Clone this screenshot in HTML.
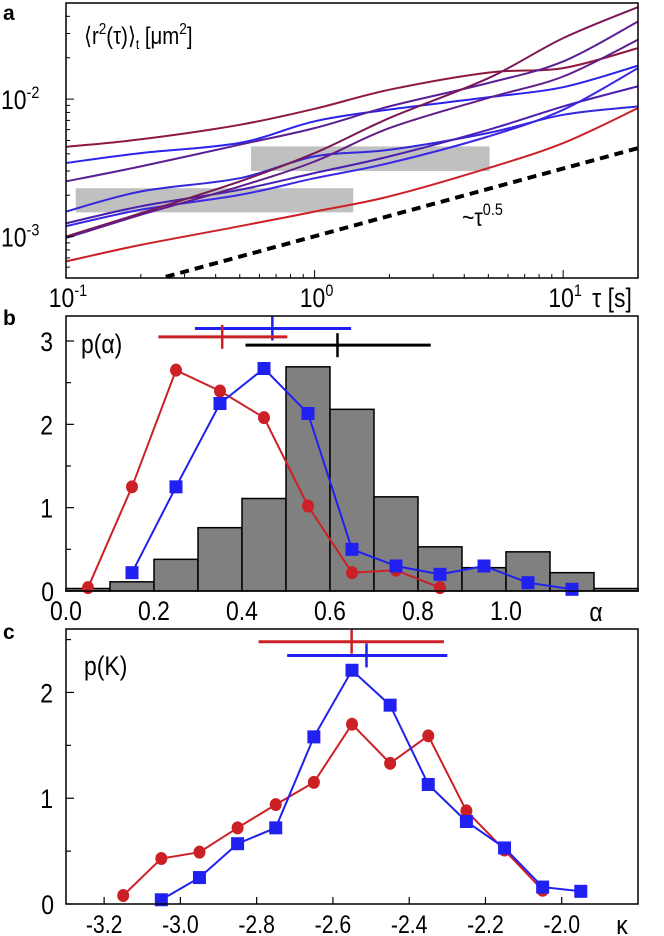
<!DOCTYPE html>
<html><head><meta charset="utf-8"><style>
html,body{margin:0;padding:0;background:#fff}
svg{display:block;font-family:"Liberation Sans",sans-serif}
</style></head><body>
<svg id="fig" width="664" height="936" viewBox="0 0 664 936" xmlns="http://www.w3.org/2000/svg"></svg>
<script>
// ---------- Panel a data ----------
const tauPts = [0.1, 0.2, 0.5, 1, 2, 5, 10, 20];
const msd1 = [4.5e-3, 5.1e-3, 6.5e-3, 8.5e-3, 11.7e-3, 15.6e-3, 16.8e-3, 23.5e-3];
const msd2 = [3.43e-3, 4.05e-3, 4.8e-3, 6.9e-3, 8.4e-3, 10.3e-3, 12.2e-3, 17.5e-3];
const msd3 = [2.52e-3, 3.24e-3, 4.66e-3, 6.15e-3, 8.85e-3, 13.1e-3, 18.8e-3, 36.7e-3];
const msd4 = [1.52e-3, 2.13e-3, 2.66e-3, 3.83e-3, 4.28e-3, 5.67e-3, 7.69e-3, 8.85e-3];
const msd5 = [1.25e-3, 1.66e-3, 2.19e-3, 2.9e-3, 3.83e-3, 5.98e-3, 8.85e-3, 12.4e-3];
const msd6 = [1.19e-3, 1.57e-3, 2.01e-3, 2.66e-3, 3.43e-3, 5.35e-3, 8.36e-3, 16.8e-3];
const msd7 = [1.0e-3, 1.48e-3, 2.52e-3, 4.05e-3, 7.27e-3, 14.2e-3, 27.8e-3, 46.7e-3];
const msd8 = [0.975e-3, 1.44e-3, 2.32e-3, 3.52e-3, 6.15e-3, 10.2e-3, 14.6e-3, 27e-3];
const msd9 = [0.66e-3, 0.87e-3, 1.19e-3, 1.52e-3, 1.96e-3, 3.15e-3, 4.79e-3, 8.6e-3];
const msdColors = ["#8e1840", "#2a22ee", "#5a1f95", "#3426dc", "#4a1fb0", "#3a28e6", "#7a1855", "#621d8c", "#cc2027"];
const bandTau = [[0.555, 5.06], [0.1095, 1.43]];
const bandMsd = [[3.0e-3, 4.53e-3], [1.5e-3, 2.25e-3]];
const guideTau = [0.252, 20];
const guideMsd = [5.1e-4, 4.4e-3];
// ---------- Panel b data ----------
const histEdges = [0, 0.1, 0.2, 0.3, 0.4, 0.5, 0.6, 0.7, 0.8, 0.9, 1.0, 1.1, 1.2, 1.3];
const histVals = [0.03, 0.11, 0.38, 0.76, 1.11, 2.69, 2.18, 1.13, 0.53, 0.28, 0.47, 0.22, 0.03];
const alphaRedX = [0.05, 0.15, 0.25, 0.35, 0.45, 0.55, 0.65, 0.75, 0.85];
const alphaRedY = [0.04, 1.25, 2.65, 2.4, 2.08, 1.02, 0.22, 0.25, 0.04];
const alphaBlueX = [0.15, 0.25, 0.35, 0.45, 0.55, 0.65, 0.75, 0.85, 0.95, 1.05, 1.15];
const alphaBlueY = [0.22, 1.25, 2.25, 2.67, 2.13, 0.5, 0.3, 0.2, 0.3, 0.1, 0.02];
const alphaErr = [ // [mean, lo, hi, y]
  [0.469, 0.293, 0.648, 3.15],
  [0.355, 0.210, 0.503, 3.05],
  [0.617, 0.408, 0.829, 2.95]];
const alphaErrColors = ["#2020f0", "#cc2027", "#000"];
const alphaTicks = ["0.0", "0.2", "0.4", "0.6", "0.8", "1.0"];
// ---------- Panel c data ----------
const kRedX = [-3.15, -3.05, -2.95, -2.85, -2.75, -2.65, -2.55, -2.45, -2.35, -2.25, -2.15, -2.05];
const kRedY = [0.08, 0.43, 0.49, 0.72, 0.94, 1.15, 1.70, 1.33, 1.59, 0.88, 0.51, 0.13];
const kBlueX = [-3.05, -2.95, -2.85, -2.75, -2.65, -2.55, -2.45, -2.35, -2.25, -2.15, -2.05, -1.95];
const kBlueY = [0.04, 0.25, 0.57, 0.72, 1.58, 2.21, 1.88, 1.13, 0.78, 0.53, 0.16, 0.12];
const kErr = [[-2.551, -2.795, -2.309, 2.48], [-2.512, -2.72, -2.30, 2.35]];
const kErrColors = ["#cc2027", "#2020f0"];
const kTicks = ["-3.2", "-3.0", "-2.8", "-2.6", "-2.4", "-2.2", "-2.0"];

const NS = "http://www.w3.org/2000/svg";
const svg = document.getElementById("fig");
function mk(tag, attrs, parent) {
  const e = document.createElementNS(NS, tag);
  for (const k in attrs) e.setAttribute(k, attrs[k]);
  (parent || svg).appendChild(e);
  return e;
}
// condensed text: scale horizontally to mimic narrow font
function txt(x, y, s, size, parent, anchor, weight, sx) {
  const k = sx || 0.85;
  const t = mk("text", {x: x / k, y: y, "font-size": size, "text-anchor": anchor || "start", "font-weight": weight || "normal", transform: "scale(" + k + ",1)"}, parent);
  t.textContent = s;
  return t;
}
function smooth(pts) {
  let d = "M" + pts[0][0].toFixed(1) + "," + pts[0][1].toFixed(1);
  for (let i = 0; i < pts.length - 1; i++) {
    const p0 = pts[Math.max(0, i - 1)], p1 = pts[i], p2 = pts[i + 1], p3 = pts[Math.min(pts.length - 1, i + 2)];
    const c1x = p1[0] + (p2[0] - p0[0]) / 6, c1y = p1[1] + (p2[1] - p0[1]) / 6;
    const c2x = p2[0] - (p3[0] - p1[0]) / 6, c2y = p2[1] - (p3[1] - p1[1]) / 6;
    d += " C" + c1x.toFixed(1) + "," + c1y.toFixed(1) + " " + c2x.toFixed(1) + "," + c2y.toFixed(1) + " " + p2[0].toFixed(1) + "," + p2[1].toFixed(1);
  }
  return d;
}
const L = 66, R = 638;

// ===== Panel a =====
const ga = mk("g", {});


const aT = 3, aB = 278;
const axA = t => L + (Math.log10(t) + 1) / Math.log10(200) * (R - L);
const ayA = v => aB - (Math.log10(v) - Math.log10(5e-4)) / 2 * (aB - aT);
const clipA = mk("clipPath", {id: "clipA"}, ga);
mk("rect", {x: L, y: aT, width: R - L, height: aB - aT}, clipA);
const ca = mk("g", {"clip-path": "url(#clipA)"}, ga);
bandTau.forEach((b, i) => {
  const r = mk("rect", {x: axA(b[0]), y: ayA(bandMsd[i][1]), width: axA(b[1]) - axA(b[0]), height: ayA(bandMsd[i][0]) - ayA(bandMsd[i][1]), fill: "#c0c0c0"}, ca);
  
  
});
const g1 = mk("line", {x1: axA(guideTau[0]), y1: ayA(guideMsd[0]), x2: axA(guideTau[1]), y2: ayA(guideMsd[1]), stroke: "#000", "stroke-width": 4, "stroke-dasharray": "9,6"}, ca);


[msd1, msd2, msd3, msd4, msd5, msd6, msd7, msd8, msd9].forEach((arr, i) => {
  const pts = arr.map((v, j) => [axA(tauPts[j]), ayA(v)]);
  const p = mk("path", {d: smooth(pts), fill: "none", stroke: msdColors[i], "stroke-width": 2, "stroke-linejoin": "round"}, ca);
  
  
});
mk("rect", {x: L, y: aT, width: R - L, height: aB - aT, fill: "none", stroke: "#000", "stroke-width": 1.5}, ga);
for (let e = -1; e <= 1; e++) for (let m = 1; m < 10; m++) {
  const t = m * Math.pow(10, e); if (t > 20) continue;
  const x = axA(t), len = m === 1 ? 8 : 4;
  mk("line", {x1: x, y1: aB, x2: x, y2: aB - len, stroke: "#000", "stroke-width": 1}, ga);
}
for (let e = -4; e <= -2; e++) for (let m = 1; m < 10; m++) {
  const v = m * Math.pow(10, e); if (v < 5e-4 || v > 0.05) continue;
  const y = ayA(v), len = m === 1 ? 8 : 4;
  mk("line", {x1: L, y1: y, x2: L + len, y2: y, stroke: "#000", "stroke-width": 1}, ga);
}
function pow10(x, y, s, parent, anchor) {
  const k = 0.85;
  const t = mk("text", {x: x / k, y: y, "font-size": 27, "text-anchor": anchor, transform: "scale(" + k + ",1)"}, parent);
  t.textContent = "10";
  const ts = mk("tspan", {dy: -11, "font-size": 17}, t); ts.textContent = s;
}
[[-1, "-1"], [0, "0"], [1, "1"]].forEach(([e, s]) => pow10(axA(Math.pow(10, e)) + 2, 307, s, ga, "middle"));
[[-2, "-2"], [-3, "-3"]].forEach(([e, s]) => pow10(1, ayA(Math.pow(10, e)) + 10, s, ga, "start"));
const xla = txt(612, 307, "τ [s]", 27, ga, "middle");


const yla = mk("text", {x: 84 / 0.85, y: 44, "font-size": 24, transform: "scale(0.85,1)"}, ga);
yla.innerHTML = '⟨r<tspan dy="-10" font-size="16">2</tspan><tspan dy="10">(τ)⟩</tspan><tspan dy="5" font-size="14">t</tspan><tspan dy="-5"> [μm</tspan><tspan dy="-10" font-size="16">2</tspan><tspan dy="10">]</tspan>';


const gl = mk("text", {x: 462 / 0.85, y: 278 - 52, "font-size": 25, transform: "scale(0.85,1)"}, ga);
gl.innerHTML = '~τ<tspan dy="-11" font-size="17">0.5</tspan>';


txt(3, 20, "a", 21, ga, "start", "bold", 1);

// ===== Panel b =====
const gb = mk("g", {});


const bT = 316, bB = 591;
const axB = a => L + a / 1.3 * (R - L);
const ayB = v => bB - v / 3.3 * (bB - bT);
histVals.forEach((v, i) => {
  const r = mk("rect", {x: axB(histEdges[i]), y: ayB(v), width: axB(histEdges[i + 1]) - axB(histEdges[i]), height: bB - ayB(v), fill: "#808080", stroke: "#000", "stroke-width": 1.5}, gb);
  
  
});
function series(xs, ys, ax, ay, col, shape, parent, name) {
  const d = xs.map((x, j) => (j ? "L" : "M") + ax(x).toFixed(1) + "," + ay(ys[j]).toFixed(1)).join(" ");
  const p = mk("path", {d: d, fill: "none", stroke: col, "stroke-width": 2}, parent);
  
  
  xs.forEach((x, j) => {
    let m;
    if (shape === "c") m = mk("ellipse", {cx: ax(x), cy: ay(ys[j]), rx: 6, ry: 6.5, fill: col}, parent);
    else m = mk("rect", {x: ax(x) - 6.5, y: ay(ys[j]) - 6.5, width: 13, height: 13, fill: col}, parent);
    
    
  });
}
series(alphaRedX, alphaRedY, axB, ayB, "#cc2027", "c", gb, "alpha-red");
series(alphaBlueX, alphaBlueY, axB, ayB, "#2020f0", "s", gb, "alpha-blue");
alphaErr.forEach((e, i) => {
  const y = ayB(e[3]);
  const h = mk("line", {x1: axB(e[1]), y1: y, x2: axB(e[2]), y2: y, stroke: alphaErrColors[i], "stroke-width": 3}, gb);
  
  
  mk("line", {x1: axB(e[0]), y1: y - 12, x2: axB(e[0]), y2: y + 12, stroke: alphaErrColors[i], "stroke-width": 2.5}, gb);
});
mk("rect", {x: L, y: bT, width: R - L, height: bB - bT, fill: "none", stroke: "#000", "stroke-width": 1.5}, gb);
for (let v = 0; v <= 3; v += 0.5) {
  mk("line", {x1: L, y1: ayB(v), x2: L + (v % 1 === 0 ? 8 : 5), y2: ayB(v), stroke: "#000", "stroke-width": 1.2}, gb);
  if (v % 1 === 0) txt(v === 0 ? 54 : 53, ayB(v) + 10, String(v), 27, gb, "end");
}
alphaTicks.forEach((s, i) => txt(axB(i * 0.2), 620, s, 27, gb, "middle"));
txt(596, 621, "α", 27, gb, "middle");
const pa = txt(81, 353, "p(α)", 27, gb);


txt(3, 325, "b", 21, gb, "start", "bold", 1);

// ===== Panel c =====
const gc = mk("g", {});


const cT = 629, cB = 904;
const axC = k => L + (k + 3.3) / 1.5 * (R - L);
const ayC = v => cB - v / 2.6 * (cB - cT);
series(kRedX, kRedY, axC, ayC, "#cc2027", "c", gc, "kappa-red");
series(kBlueX, kBlueY, axC, ayC, "#2020f0", "s", gc, "kappa-blue");
kErr.forEach((e, i) => {
  const y = ayC(e[3]);
  const h = mk("line", {x1: axC(e[1]), y1: y, x2: axC(e[2]), y2: y, stroke: kErrColors[i], "stroke-width": 3}, gc);
  
  
  mk("line", {x1: axC(e[0]), y1: y - 12, x2: axC(e[0]), y2: y + 12, stroke: kErrColors[i], "stroke-width": 2.5}, gc);
});
mk("rect", {x: L, y: cT, width: R - L, height: cB - cT, fill: "none", stroke: "#000", "stroke-width": 1.5}, gc);
for (let v = 0; v <= 2.5; v += 0.5) {
  mk("line", {x1: L, y1: ayC(v), x2: L + (v % 1 === 0 ? 8 : 5), y2: ayC(v), stroke: "#000", "stroke-width": 1.2}, gc);
  if (v % 1 === 0) txt(v === 0 ? 54 : 53, ayC(v) + 10, String(v), 27, gc, "end");
}
kTicks.forEach((s, i) => {
  const k = -3.2 + i * 0.2;
  mk("line", {x1: axC(k), y1: cB, x2: axC(k), y2: cB - 7, stroke: "#000", "stroke-width": 1.2}, gc);
  txt(axC(k), 933, s, 25, gc, "middle");
});
txt(622, 934, "κ", 27, gc, "middle");
const pk = txt(84, 675, "p(K)", 27, gc);


txt(3, 639, "c", 21, gc, "start", "bold", 1);
</script>
</body></html>
